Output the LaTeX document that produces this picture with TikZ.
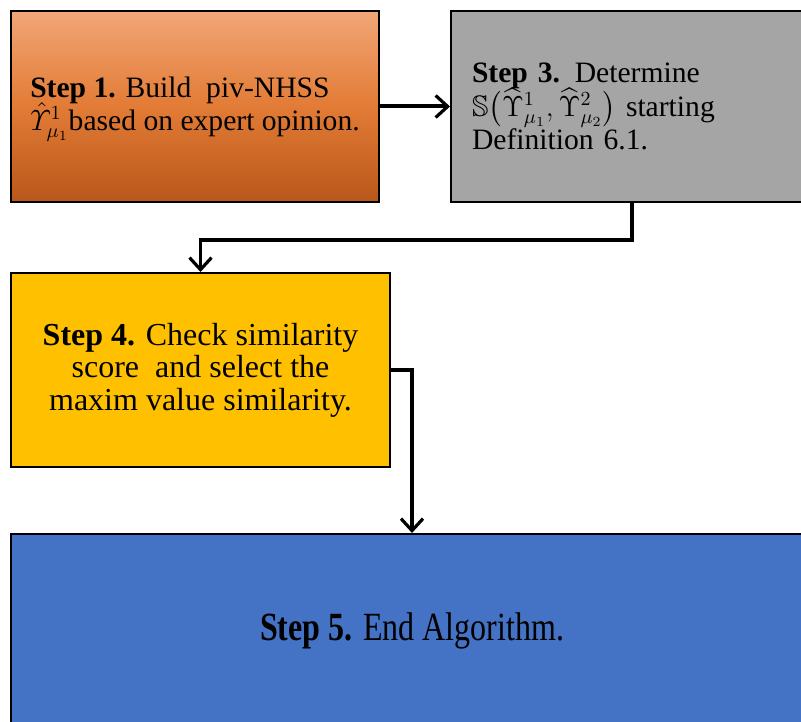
\documentclass[tikz,border=0pt]{standalone}
\usepackage{amsmath,amssymb}
\usepackage{fontspec}
\setmainfont{Liberation Serif}
\usetikzlibrary{arrows.meta}
\definecolor{orangetop}{HTML}{F2A677}
\definecolor{orangemid}{HTML}{E27B35}
\definecolor{orangebot}{HTML}{B9571B}
\definecolor{stepgrey}{HTML}{A5A5A5}
\definecolor{stepgold}{HTML}{FFC000}
\definecolor{stepblue}{HTML}{4472C4}
\begin{document}
\begin{tikzpicture}[x=0.5pt, y=-0.5pt,
  stepbox/.style={draw=black, line width=1pt, inner sep=0pt, anchor=north west,
                  font=\fontsize{16}{16.2}\selectfont},
  smallstep/.style={font=\fontsize{14.8}{16.6}\selectfont},
  link/.style={draw=black, line width=1.6pt, -{Straight Barb[length=6pt,width=11pt,line width=1.6pt]}}]
  \clip (0,0) rectangle (801,721);
  \fill[white] (0,0) rectangle (801,721);
  % boxes
  \node[stepbox, smallstep, top color=orangetop, bottom color=orangebot, middle color=orangemid,
        minimum width=184pt, minimum height=95.5pt, align=left] (s1) at (10,10)
        {\textbf{Step 1.} Build~ piv-NHSS\\
         \smash{$\hat{\varUpsilon}^{1}_{\mu_1}$}based on expert opinion.};
  \node[stepbox, smallstep, fill=stepgrey, minimum width=181pt, minimum height=95.5pt,
        text width=160pt, align=left] (s3) at (450,10)
        {\textbf{Step 3.} Determine\\
         \smash{$\mathbb{S}\bigl(\widehat{\Upsilon}^{1}_{\mu_1},\widehat{\Upsilon}^{2}_{\mu_2}\bigr)$} starting\\
         Definition 6.1.};
  \node[stepbox, fill=stepgold, minimum width=189.5pt, minimum height=97pt,
        align=center] (s4) at (10,272)
        {\textbf{Step 4.} Check similarity\\
         score~ and select the\\
         maxim value similarity.};
  \node[stepbox, fill=stepblue, minimum width=401pt, minimum height=97pt] (s5) at (10,533)
        {\scalebox{1.0}[1.25]{\textbf{Step 5.} End Algorithm.}};
  % connectors
  \draw[link, line width=2pt] (s1.east) -- (s1.east -| s3.west);
  \draw[link] (s3.south) -- ++(0,37) -| (s4.north);
  \draw[link] (s4.east) -| (s5.north);
\end{tikzpicture}
\end{document}
